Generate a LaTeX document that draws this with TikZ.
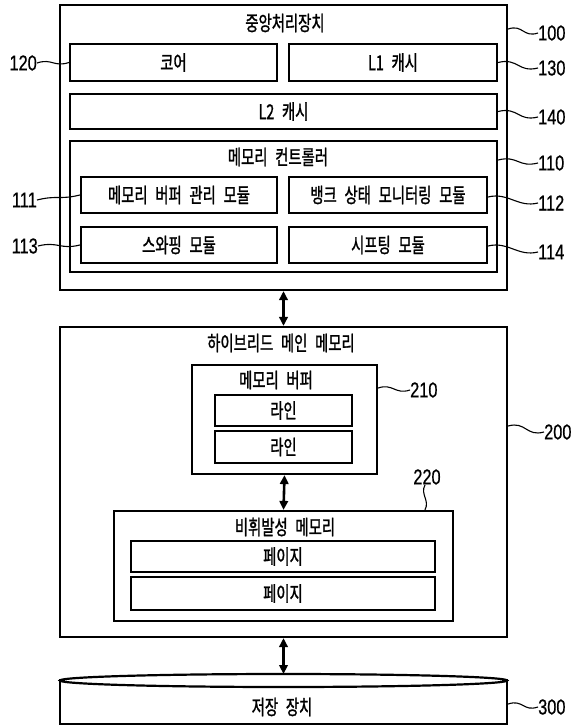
\documentclass[tikz,border=0pt]{standalone}
\usepackage{fontspec}
\setmainfont{Noto Sans CJK KR}[FakeStretch=0.7, WordSpace=2.4, FakeBold=1.2]
\newfontfamily\numfont{Liberation Sans}[FakeStretch=0.76, FakeBold=0.6]
\usetikzlibrary{arrows.meta}
\tikzset{
  box/.style={draw, line width=2.2pt, inner sep=0pt, fill=white},
  ktext/.style={font=\fontsize{20.5}{22}\selectfont, inner sep=0pt},
  lbl/.style={font=\numfont\fontsize{21.5}{24}\selectfont, inner sep=0pt},
  lead/.style={line width=1.1pt},
  biarrow/.style={line width=2.6pt, {Triangle[length=9pt,width=8.5pt]}-{Triangle[length=9pt,width=8.5pt]}}
}
\begin{document}
\begin{tikzpicture}[x=1pt,y=-1pt]
\useasboundingbox (0,0) rectangle (572,728);
% CPU
\node[box, minimum width=447pt, minimum height=285pt] (cpu) at (283.5,147.5) {};
\node[ktext] (cput) at (285,23) {중앙처리장치};
\node[box, minimum width=207pt, minimum height=37pt] (core) at (173.5,62.5) {};
\node[ktext] at (core.center) {코어};
\node[box, minimum width=208pt, minimum height=37pt] (l1) at (393,62.5) {};
\node[ktext] at (l1.center) {L1 캐시};
\node[box, minimum width=427pt, minimum height=35pt] (l2) at (283.5,111.5) {};
\node[ktext] at (l2.center) {L2 캐시};
\node[box, minimum width=427pt, minimum height=131pt] (mc) at (283.5,206.5) {};
\node[ktext] (mct) at (278,157) {메모리 컨트롤러};
\node[box, minimum width=196pt, minimum height=36pt] (m111) at (179,195) {};
\node[ktext] at (m111.center) {메모리 버퍼 관리 모듈};
\node[box, minimum width=198pt, minimum height=36pt] (m112) at (388,195) {};
\node[ktext] at (m112.center) {뱅크 상태 모니터링 모듈};
\node[box, minimum width=196pt, minimum height=36pt] (m113) at (179,245) {};
\node[ktext] at (m113.center) {스와핑 모듈};
\node[box, minimum width=198pt, minimum height=36pt] (m114) at (388,245) {};
\node[ktext] at (m114.center) {시프팅 모듈};
% Hybrid main memory
\node[box, minimum width=447pt, minimum height=310pt] (hyb) at (283.5,482) {};
\node[ktext] (hybt) at (281,343) {하이브리드 메인 메모리};
\node[box, minimum width=185pt, minimum height=109pt] (mb) at (284.5,419.5) {};
\node[ktext] (mbt) at (276,380) {메모리 버퍼};
\node[box, minimum width=137pt, minimum height=31pt] (line1) at (283.5,410.5) {};
\node[ktext] at (line1.center) {라인};
\node[box, minimum width=137pt, minimum height=32pt] (line2) at (283.5,447) {};
\node[ktext] at (line2.center) {라인};
\node[box, minimum width=339pt, minimum height=110pt] (nvm) at (283.5,566) {};
\node[ktext] (nvmt) at (285,527) {비휘발성 메모리};
\node[box, minimum width=304pt, minimum height=31pt] (page1) at (283,556.5) {};
\node[ktext] at (page1.center) {페이지};
\node[box, minimum width=304pt, minimum height=33pt] (page2) at (283,593.5) {};
\node[ktext] at (page2.center) {페이지};
% Storage
\node[box, minimum width=447pt, minimum height=44pt] (stor) at (283.5,702) {};
\draw[line width=2.2pt, fill=white] (283.5,680.5) ellipse [x radius=223.5pt, y radius=6.5pt];
\coordinate (stortop) at (283.5,674);
\node[ktext] at (282,707) {저장 장치};
% Arrows
\draw[biarrow] (cpu.south) -- (hyb.north);
\draw[biarrow] (mb.south) -- (nvm.north);
\draw[biarrow] (hyb.south) -- (stortop);
% Labels
\node[lbl, anchor=west] (n100) at (538,33) {100};
\node[lbl, anchor=east] (n120) at (37,63) {120};
\node[lbl, anchor=west] (n130) at (538,68) {130};
\node[lbl, anchor=west] (n140) at (538,117) {140};
\node[lbl, anchor=west] (n110) at (538,163) {110};
\node[lbl, anchor=east] (n111) at (37,200) {111};
\node[lbl, anchor=west] (n112) at (538,203) {112};
\node[lbl, anchor=east] (n113) at (38,246) {113};
\node[lbl, anchor=west] (n114) at (538,252) {114};
\node[lbl, anchor=west] (n210) at (410,390) {210};
\node[lbl, anchor=west] (n200) at (544,432) {200};
\node[lbl] (n220) at (427,477) {220};
\node[lbl, anchor=west] (n300) at (538,707) {300};
% Leaders
\draw[lead] (cpu.east |- 0,29) .. controls +(15,-5) and +(-15,5) .. (n100.west);
\draw[lead] (n120.east) .. controls +(15,-5) and +(-15,5) .. (core.west);
\draw[lead] (l1.east) .. controls +(20,-5) and +(-20,5) .. (n130.west);
\draw[lead] (l2.east) .. controls +(20,-5) and +(-20,5) .. (n140.west);
\draw[lead] (mc.east |- 0,160) .. controls +(20,-5) and +(-20,5) .. (n110.west);
\draw[lead] (n111.east) .. controls +(20,-5) and +(-20,5) .. (m111.west);
\draw[lead] (m112.east |- 0,197) .. controls +(20,-5) and +(-20,5) .. (n112.west);
\draw[lead] (n113.east) .. controls +(20,-5) and +(-20,5) .. (m113.west);
\draw[lead] (m114.east |- 0,246) .. controls +(20,-5) and +(-20,5) .. (n114.west);
\draw[lead] (mb.east |- 0,388) .. controls +(15,-5) and +(-15,5) .. (n210.west);
\draw[lead] (hyb.east |- 0,426) .. controls +(18,-5) and +(-18,5) .. (n200.west);
\draw[lead] (n220.south -| 425,0) .. controls +(-5,10) and +(5,-10) .. (nvm.north -| 425,0);
\draw[lead] (stor.east |- 0,704) .. controls +(15,-5) and +(-15,5) .. (n300.west);
\end{tikzpicture}
\end{document}
